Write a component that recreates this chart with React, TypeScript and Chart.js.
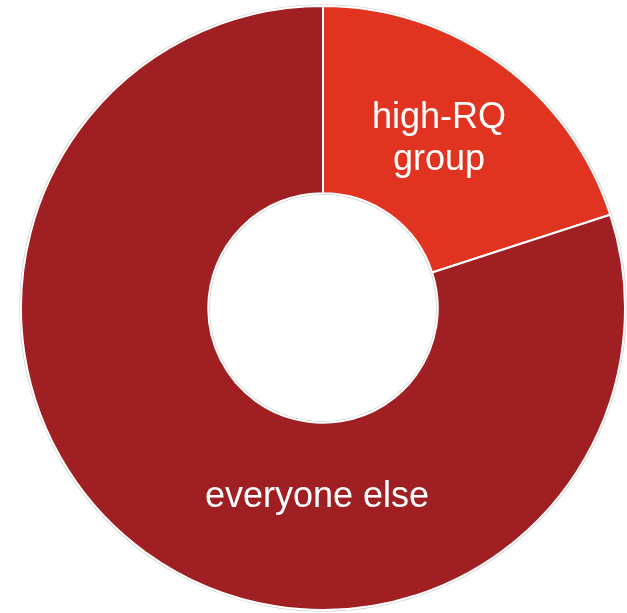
import React, { useEffect, useRef } from "react";
import { Chart, registerables } from "chart.js";

Chart.register(...registerables);

const categories = ["high-RQ group", "everyone else"];
const labelLines = [["high-RQ", "group"], ["everyone else"]];
const shares = [20, 80];
const colors = ["#E03320", "#A01F22"];
// label anchor offsets, as fractions of outer radius (x, y of first baseline)
const labelAnchors = [
  [0.384, -0.596],
  [-0.02, 0.659],
];

const labelPlugin = {
  id: "sliceLabels",
  beforeDatasetsDraw(chart: any) {
    const meta = chart.getDatasetMeta(0);
    const arc = meta.data[0];
    if (!arc) return;
    const { x, y, outerRadius, innerRadius } = arc.getProps(["x", "y", "outerRadius", "innerRadius"], true);
    const ctx = chart.ctx;
    ctx.save();
    ctx.strokeStyle = "#c8c8c8";
    ctx.lineWidth = 1.2;
    ctx.beginPath();
    ctx.arc(x, y, outerRadius + 1, 0, Math.PI * 2);
    ctx.stroke();
    ctx.beginPath();
    ctx.arc(x, y, innerRadius - 1, 0, Math.PI * 2);
    ctx.stroke();
    ctx.restore();
  },
  afterDatasetsDraw(chart: any) {
    const meta = chart.getDatasetMeta(0);
    const ctx = chart.ctx;
    ctx.save();
    ctx.fillStyle = "#ffffff";
    ctx.font = '36px "Liberation Sans", Arial, sans-serif';
    ctx.textAlign = "center";
    ctx.textBaseline = "alphabetic";
    meta.data.forEach((arc: any, i: number) => {
      const { x, y, outerRadius } = arc.getProps(["x", "y", "outerRadius"], true);
      const lines = labelLines[i];
      const ax = x + labelAnchors[i][0] * outerRadius;
      const ay = y + labelAnchors[i][1] * outerRadius;
      lines.forEach((t: string, j: number) => {
        ctx.fillText(t, ax, ay + j * 42);
      });
    });
    ctx.restore();
  },
};

export default function App() {
  const ref = useRef<HTMLCanvasElement>(null);
  useEffect(() => {
    if (!ref.current) return;
    const chart = new Chart(ref.current, {
      type: "doughnut",
      data: {
        labels: categories,
        datasets: [
          {
            data: shares,
            backgroundColor: colors,
            borderColor: "#ffffff",
            borderWidth: 2,
          },
        ],
      },
      options: {
        responsive: false,
        animation: false,
        cutout: "38%",
        layout: { padding: { left: 20, right: 1, top: 5, bottom: 2 } },
        plugins: {
          legend: { display: false },
          tooltip: { enabled: false },
        },
      },
      plugins: [labelPlugin],
    });
    return () => chart.destroy();
  }, []);
  return (
    <div style={{ position: "fixed", left: 0, top: 0, width: 627, height: 613, background: "#fff" }}>
      <canvas ref={ref} width={627} height={613} style={{ width: 627, height: 613, display: "block" }} />
    </div>
  );
}
